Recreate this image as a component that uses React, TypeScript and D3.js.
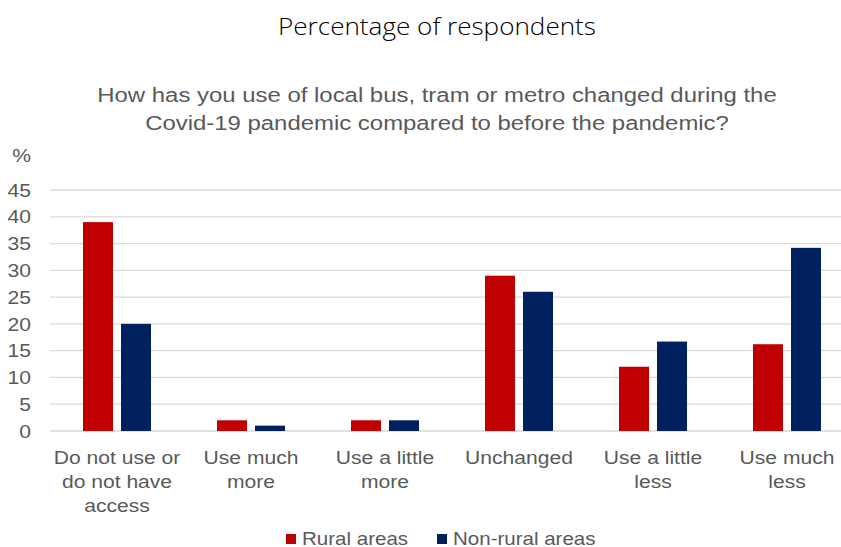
import React from 'react';
import * as d3 from 'd3';

const categories = [
  ['Do not use or', 'do not have', 'access'],
  ['Use much', 'more'],
  ['Use a little', 'more'],
  ['Unchanged'],
  ['Use a little', 'less'],
  ['Use much', 'less'],
];
const seriesNames = ['Rural areas', 'Non-rural areas'];
const rural = [39, 2, 2, 29, 12, 16.2];
const nonRural = [20, 1, 2, 26, 16.7, 34.2];
const yTicks = [0, 5, 10, 15, 20, 25, 30, 35, 40, 45];
const colors = ['#C00000', '#002060'];

const W = 841;
const H = 547;
const labelFont = "'Liberation Sans', Arial, sans-serif";
// the source picture is a bit wider than tall, so text gets stretched sideways
const SX = 1.14;

type STextProps = {
  x: number;
  y: number;
  size: number;
  anchor?: 'start' | 'middle' | 'end';
  fill?: string;
  children: React.ReactNode;
};

const SText: React.FC<STextProps> = ({ x, y, size, anchor = 'start', fill = '#595959', children }) => (
  <text
    transform={`translate(${x},${y}) scale(${SX},1)`}
    textAnchor={anchor}
    fontFamily={labelFont}
    fontSize={size}
    fill={fill}
  >
    {children}
  </text>
);

const App: React.FC = () => {
  const keys = categories.map((c) => c.join(' '));
  const x = d3.scaleBand<string>().domain(keys).range([50, 854]).padding(0);
  const groupW = 68;
  const xSub = d3.scaleBand<string>().domain(seriesNames).range([0, groupW]).paddingInner(8 / 38);
  const y = d3.scaleLinear().domain([0, 45]).range([431, 190]);
  const values = [rural, nonRural];

  return (
    <div style={{ position: 'absolute', left: 0, top: 0 }}>
      <svg width={W} height={H} style={{ display: 'block', background: '#fff' }}>
        {/* titles */}
        <text
          x={437}
          y={35}
          textAnchor="middle"
          fontFamily="'Open Sans', sans-serif"
          fontWeight={300}
          fontSize={24}
          fill="#000"
          textLength={318}
          lengthAdjust="spacingAndGlyphs"
        >
          Percentage of respondents
        </text>
        <SText x={437} y={102} size={21} anchor="middle">
          How has you use of local bus, tram or metro changed during the
        </SText>
        <SText x={437} y={130} size={21} anchor="middle">
          Covid-19 pandemic compared to before the pandemic?
        </SText>
        <SText x={31} y={162} size={18.5} anchor="end">%</SText>

        {/* gridlines + y ticks */}
        {yTicks.map((t) => (
          <g key={t}>
            <line x1={50} x2={W} y1={y(t)} y2={y(t)} stroke="#d9d9d9" strokeWidth={1.3} />
            <SText x={31} y={y(t) + 6.7} size={18.5} anchor="end">
              {t}
            </SText>
          </g>
        ))}

        {/* bars */}
        {keys.map((k, i) => {
          const gx = (x(k) ?? 0) + (x.bandwidth() - groupW) / 2;
          const cx = (x(k) ?? 0) + x.bandwidth() / 2;
          return (
            <g key={k}>
              {seriesNames.map((s, j) => (
                <rect
                  key={s}
                  x={gx + (xSub(s) ?? 0)}
                  y={y(values[j][i])}
                  width={xSub.bandwidth()}
                  height={y(0) - y(values[j][i])}
                  fill={colors[j]}
                />
              ))}
              {categories[i].map((line, li) => (
                <SText key={li} x={cx} y={463.5 + li * 24} size={18.5} anchor="middle">
                  {line}
                </SText>
              ))}
            </g>
          );
        })}

        {/* legend */}
        {seriesNames.map((s, j) => {
          const lx = j === 0 ? 286 : 437;
          return (
            <g key={s}>
              <rect x={lx} y={534} width={10} height={10} fill={colors[j]} />
              <SText x={lx + 16} y={544.5} size={18}>
                {s}
              </SText>
            </g>
          );
        })}
      </svg>
    </div>
  );
};

export default App;
